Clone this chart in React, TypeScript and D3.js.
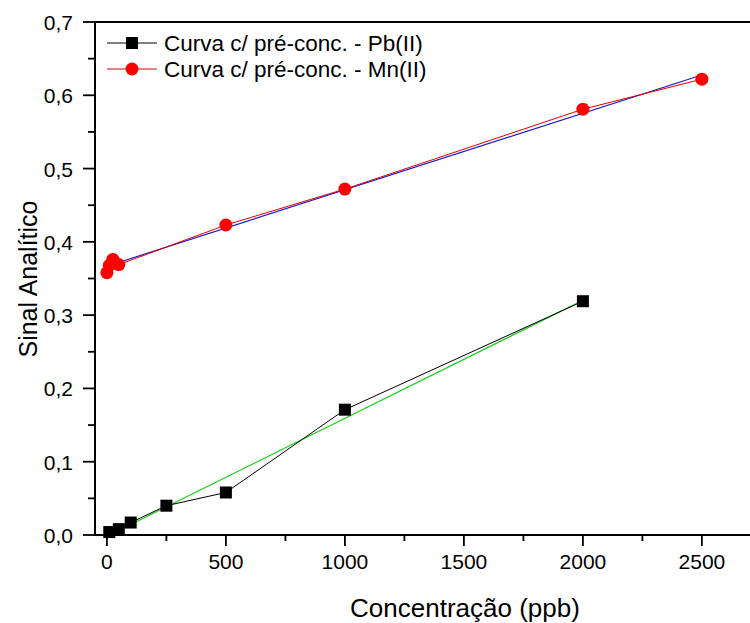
import React from "react";
import * as d3 from "d3";

const pbX = [10, 50, 100, 250, 500, 1000, 2000];
const pbY = [0.004, 0.008, 0.017, 0.04, 0.058, 0.171, 0.319];
const mnX = [0, 10, 25, 50, 500, 1000, 2000, 2500];
const mnY = [0.358, 0.368, 0.376, 0.369, 0.423, 0.472, 0.581, 0.622];
const xTicks = [0, 500, 1000, 1500, 2000, 2500];
const xMinor = [250, 750, 1250, 1750, 2250];
const yTicks = [0, 0.1, 0.2, 0.3, 0.4, 0.5, 0.6, 0.7];
const yMinor = [0.05, 0.15, 0.25, 0.35, 0.45, 0.55, 0.65];
const legendLabels = ["Curva c/ pré-conc. - Pb(II)", "Curva c/ pré-conc. - Mn(II)"];

function fit(xs: number[], ys: number[]) {
  const mx = d3.mean(xs)!;
  const my = d3.mean(ys)!;
  let sxy = 0, sxx = 0;
  xs.forEach((x, i) => { sxy += (x - mx) * (ys[i] - my); sxx += (x - mx) * (x - mx); });
  const b = sxy / sxx;
  const a = my - b * mx;
  return (x: number) => a + b * x;
}

export default function App() {
  const W = 750, H = 623;
  const x = d3.scaleLinear().domain([-50, 2750]).range([95, 95 + 2800 * 0.238]);
  const y = d3.scaleLinear().domain([0, 0.7]).range([535, 22]);
  const fmt = (v: number) => d3.format(".1f")(v).replace(".", ",");
  const line = d3.line<[number, number]>().x(d => x(d[0])).y(d => y(d[1]));
  const pbPts = pbX.map((v, i) => [v, pbY[i]] as [number, number]);
  const mnPts = mnX.map((v, i) => [v, mnY[i]] as [number, number]);
  const fPb = fit(pbX, pbY);
  const fMn = fit(mnX, mnY);
  const pbFit: [number, number][] = [[pbX[0], fPb(pbX[0])], [pbX[pbX.length - 1], fPb(pbX[pbX.length - 1])]];
  const mnFit: [number, number][] = [[mnX[0], fMn(mnX[0])], [mnX[mnX.length - 1], fMn(mnX[mnX.length - 1])]];
  const font = "'Liberation Sans', Arial, sans-serif";
  const x0 = 95, y0 = 535;
  return (
    <svg width={W} height={H} style={{ position: "absolute", left: 0, top: 0, background: "#fff" }} fontFamily={font}>
      <rect width={W} height={H} fill="#fff" />
      {/* fits */}
      <path d={line(pbFit)!} stroke="#22cc22" strokeWidth={1.2} fill="none" />
      <path d={line(mnFit)!} stroke="#1a1acc" strokeWidth={1.2} fill="none" />
      {/* data lines */}
      <path d={line(pbPts)!} stroke="#000" strokeWidth={1} fill="none" />
      <path d={line(mnPts)!} stroke="#e00000" strokeWidth={1} fill="none" />
      {pbPts.map((p, i) => (
        <rect key={"p" + i} x={x(p[0]) - 6} y={y(p[1]) - 6} width={12} height={12} fill="#000" />
      ))}
      {mnPts.map((p, i) => (
        <circle key={"m" + i} cx={x(p[0])} cy={y(p[1])} r={6.5} fill="#ff0000" />
      ))}
      {/* axes */}
      <line x1={x0} x2={W} y1={y0} y2={y0} stroke="#000" strokeWidth={2} />
      <line x1={x0} x2={W} y1={22} y2={22} stroke="#000" strokeWidth={2} />
      <line x1={x0} x2={x0} y1={21} y2={y0 + 1} stroke="#000" strokeWidth={2} />
      {xTicks.map(t => (
        <g key={"xt" + t}>
          <line x1={x(t)} x2={x(t)} y1={y0} y2={y0 + 11} stroke="#000" strokeWidth={1.8} />
          <text x={x(t)} y={y0 + 34} textAnchor="middle" fontSize={21}>{t}</text>
        </g>
      ))}
      {xMinor.map(t => (
        <line key={"xm" + t} x1={x(t)} x2={x(t)} y1={y0} y2={y0 + 6} stroke="#000" strokeWidth={1.8} />
      ))}
      {yTicks.map(t => (
        <g key={"yt" + t}>
          <line x1={x0 - 12} x2={x0} y1={y(t)} y2={y(t)} stroke="#000" strokeWidth={1.8} />
          <text x={x0 - 22} y={y(t) + 8} textAnchor="end" fontSize={21}>{fmt(t)}</text>
        </g>
      ))}
      {yMinor.map(t => (
        <line key={"ym" + t} x1={x0 - 7} x2={x0} y1={y(t)} y2={y(t)} stroke="#000" strokeWidth={1.8} />
      ))}
      <text x={465} y={617} textAnchor="middle" fontSize={26}>Concentração (ppb)</text>
      <text transform={`translate(37,${279}) rotate(-90)`} textAnchor="middle" fontSize={25}>Sinal Analítico</text>
      {/* legend */}
      <g>
        <line x1={107} x2={157} y1={43} y2={43} stroke="#000" strokeWidth={1} />
        <rect x={126} y={37} width={12} height={12} fill="#000" />
        <text x={164} y={51} fontSize={22.5}>{legendLabels[0]}</text>
        <line x1={107} x2={157} y1={69} y2={69} stroke="#e00000" strokeWidth={1} />
        <circle cx={132} cy={69} r={6.5} fill="#ff0000" />
        <text x={164} y={77} fontSize={22.5}>{legendLabels[1]}</text>
      </g>
    </svg>
  );
}
